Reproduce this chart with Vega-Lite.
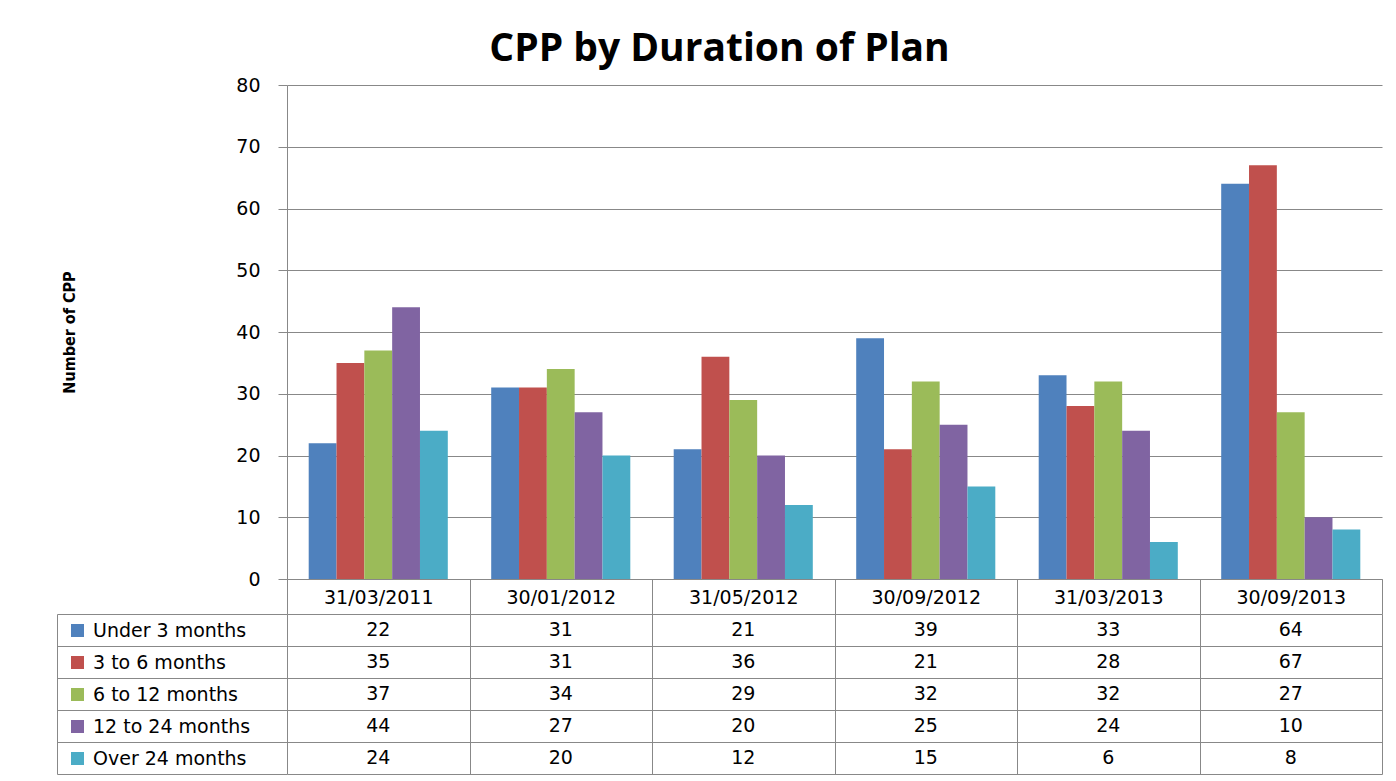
{
  "$schema": "https://vega.github.io/schema/vega-lite/v6.json",
  "padding": {"left": 56, "top": 30, "right": 13, "bottom": 4},
  "background": "white",
  "title": {"text": "CPP by Duration of Plan", "font": "Open Sans", "fontSize": 39, "fontWeight": "bold", "color": "#000000", "anchor": "middle", "frame": "bounds", "offset": 7},
  "bounds": "flush",
  "spacing": 35,
  "datasets": {
    "cpp": [
      {"date": "31/03/2011", "series": "Under 3 months", "value": 22},
      {"date": "31/03/2011", "series": "3 to 6 months", "value": 35},
      {"date": "31/03/2011", "series": "6 to 12 months", "value": 37},
      {"date": "31/03/2011", "series": "12 to 24 months", "value": 44},
      {"date": "31/03/2011", "series": "Over 24 months", "value": 24},
      {"date": "30/01/2012", "series": "Under 3 months", "value": 31},
      {"date": "30/01/2012", "series": "3 to 6 months", "value": 31},
      {"date": "30/01/2012", "series": "6 to 12 months", "value": 34},
      {"date": "30/01/2012", "series": "12 to 24 months", "value": 27},
      {"date": "30/01/2012", "series": "Over 24 months", "value": 20},
      {"date": "31/05/2012", "series": "Under 3 months", "value": 21},
      {"date": "31/05/2012", "series": "3 to 6 months", "value": 36},
      {"date": "31/05/2012", "series": "6 to 12 months", "value": 29},
      {"date": "31/05/2012", "series": "12 to 24 months", "value": 20},
      {"date": "31/05/2012", "series": "Over 24 months", "value": 12},
      {"date": "30/09/2012", "series": "Under 3 months", "value": 39},
      {"date": "30/09/2012", "series": "3 to 6 months", "value": 21},
      {"date": "30/09/2012", "series": "6 to 12 months", "value": 32},
      {"date": "30/09/2012", "series": "12 to 24 months", "value": 25},
      {"date": "30/09/2012", "series": "Over 24 months", "value": 15},
      {"date": "31/03/2013", "series": "Under 3 months", "value": 33},
      {"date": "31/03/2013", "series": "3 to 6 months", "value": 28},
      {"date": "31/03/2013", "series": "6 to 12 months", "value": 32},
      {"date": "31/03/2013", "series": "12 to 24 months", "value": 24},
      {"date": "31/03/2013", "series": "Over 24 months", "value": 6},
      {"date": "30/09/2013", "series": "Under 3 months", "value": 64},
      {"date": "30/09/2013", "series": "3 to 6 months", "value": 67},
      {"date": "30/09/2013", "series": "6 to 12 months", "value": 27},
      {"date": "30/09/2013", "series": "12 to 24 months", "value": 10},
      {"date": "30/09/2013", "series": "Over 24 months", "value": 8}
    ]
  },
  "resolve": {"legend": {"color": "independent"}},
  "vconcat": [
    {
      "width": 1095,
      "height": 494,
      "data": {"name": "cpp"},
      "mark": {"type": "bar"},
      "encoding": {
        "x": {
          "field": "date", "type": "nominal",
          "sort": ["31/03/2011", "30/01/2012", "31/05/2012", "30/09/2012", "31/03/2013", "30/09/2013"],
          "scale": {"paddingInner": 0, "paddingOuter": 0},
          "axis": {"title": null, "orient": "bottom", "tickBand": "extent", "tickSize": 35, "labelPadding": -17, "labelBaseline": "middle", "labelAngle": 0, "labelFontSize": 19, "labelFont": "DejaVu Sans", "labelColor": "#000000", "domainColor": "#888888", "tickColor": "#888888", "grid": false}
        },
        "xOffset": {
          "field": "series", "type": "nominal",
          "sort": ["Under 3 months", "3 to 6 months", "6 to 12 months", "12 to 24 months", "Over 24 months"],
          "scale": {"paddingInner": 0, "paddingOuter": 0.78}
        },
        "y": {
          "field": "value", "type": "quantitative",
          "scale": {"domain": [0, 80], "nice": false},
          "axis": {"title": "Number of CPP", "titleFont": "DejaVu Sans Condensed", "titleFontSize": 16, "titleFontWeight": "bold", "titleColor": "#000000", "titlePadding": 158, "values": [0, 10, 20, 30, 40, 50, 60, 70, 80], "tickSize": 9, "labelPadding": 18, "labelFontSize": 19, "labelFont": "DejaVu Sans", "labelColor": "#000000", "grid": true, "gridColor": "#888888", "domainColor": "#888888", "tickColor": "#888888"}
        },
        "color": {
          "field": "series", "type": "nominal",
          "sort": ["Under 3 months", "3 to 6 months", "6 to 12 months", "12 to 24 months", "Over 24 months"],
          "scale": {"domain": ["Under 3 months", "3 to 6 months", "6 to 12 months", "12 to 24 months", "Over 24 months"], "range": ["#4F81BD", "#C0504D", "#9BBB59", "#8064A2", "#4BACC6"]},
          "legend": {"orient": "none", "legendX": -219, "legendY": 536, "title": null, "symbolType": "square", "symbolSize": 170, "symbolStrokeWidth": 0, "labelFont": "DejaVu Sans", "labelFontSize": 19, "labelColor": "#000000", "labelOffset": 6, "rowPadding": 12, "padding": 0, "labelLimit": 300}
        }
      }
    },
    {
      "width": 1095,
      "height": 160,
      "data": {"name": "cpp"},
      "mark": {"type": "text", "font": "DejaVu Sans", "fontSize": 19, "color": "#000000", "baseline": "middle"},
      "encoding": {
        "x": {
          "field": "date", "type": "nominal",
          "sort": ["31/03/2011", "30/01/2012", "31/05/2012", "30/09/2012", "31/03/2013", "30/09/2013"],
          "scale": {"paddingInner": 0, "paddingOuter": 0},
          "axis": {"title": null, "labels": false, "ticks": false, "domain": false, "grid": true, "tickBand": "extent", "gridColor": "#888888"}
        },
        "y": {
          "field": "series", "type": "nominal",
          "sort": ["Under 3 months", "3 to 6 months", "6 to 12 months", "12 to 24 months", "Over 24 months"],
          "scale": {"paddingInner": 0, "paddingOuter": 0},
          "axis": {"title": null, "labels": false, "ticks": true, "tickSize": -230, "offset": 230, "domain": true, "grid": true, "tickBand": "extent", "gridColor": "#888888", "tickColor": "#888888", "domainColor": "#888888"}
        },
        "text": {"field": "value", "type": "quantitative"}
      }
    }
  ],
  "config": {
    "view": {"stroke": null},
    "axis": {"gridOpacity": 1, "domainWidth": 1, "gridWidth": 1, "tickWidth": 1}
  }
}
